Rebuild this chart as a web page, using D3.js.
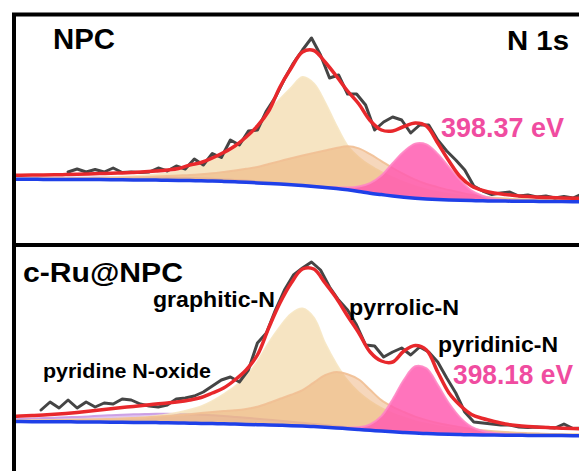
<!DOCTYPE html>
<html>
<head>
<meta charset="utf-8">
<script src="https://cdn.jsdelivr.net/npm/d3@7"></script>
<style>
  html, body { margin: 0; padding: 0; background: #fff; }
  #chart { width: 579px; height: 471px; overflow: hidden; }
  text { font-family: "Liberation Sans", Arial, sans-serif; font-weight: bold; }
</style>
</head>
<body>
<div id="chart"></div>
<script>
/* =========================
   DATA (binding energy, eV / intensity, a.u.)
========================= */
const energy = [407.5, 407.25, 407.0, 406.75, 406.5, 406.25, 406.0, 405.75, 405.5, 405.25,
  405.0, 404.75, 404.5, 404.25, 404.0, 403.75, 403.5, 403.25, 403.0, 402.75,
  402.5, 402.25, 402.0, 401.75, 401.5, 401.25, 401.0, 400.75, 400.5, 400.25,
  400.0, 399.75, 399.5, 399.25, 399.0, 398.75, 398.5, 398.25, 398.0, 397.75,
  397.5, 397.25, 397.0, 396.75, 396.5, 396.25, 396.0, 395.75, 395.5, 395.25,
  395.0, 394.75, 394.5];

// NPC
const npcBackground = [63.7, 63.7, 63.7, 63.6, 63.6, 63.5, 63.5, 63.4, 63.4, 63.3,
  63.2, 63.1, 63.0, 62.9, 62.8, 62.6, 62.4, 62.2, 62.0, 61.6,
  61.2, 60.7, 60.1, 59.5, 58.9, 58.3, 57.5, 56.6, 55.6, 54.5,
  53.2, 51.6, 49.8, 48.4, 47.0, 45.8, 44.8, 44.0, 43.4, 43.0,
  42.7, 42.4, 42.2, 42.0, 41.9, 41.8, 41.7, 41.6, 41.5, 41.4,
  41.3, 41.3, 41.2];
const npcFit = [67.7, 67.8, 67.9, 68.0, 68.2, 68.4, 68.7, 69.0, 69.4, 69.7,
  70.1, 70.6, 71.2, 72.0, 73.0, 74.5, 78.0, 80.5, 85.0, 90.5,
  97.0, 106.0, 117.0, 132.0, 156.0, 175.0, 191.0, 192.5, 181.0, 167.0,
  152.0, 139.0, 122.5, 113.0, 112.0, 116.5, 120.0, 117.0, 100.0, 82.0,
  66.3, 57.0, 52.5, 50.0, 48.5, 47.3, 46.4, 45.7, 45.4, 45.1,
  44.8, 44.6, 44.5];
const npcGraphitic = [0.8, 0.9, 1.0, 1.1, 1.2, 1.4, 1.6, 1.8, 2.1, 2.5,
  3.0, 3.6, 4.4, 5.5, 7.0, 9.5, 13.5, 17, 22, 28.5,
  36, 46, 57.5, 72, 85, 97, 108.5, 103, 85, 63,
  44, 34, 27.5, 22.5, 18.5, 15, 12, 9.5, 7.5, 6,
  4.8, 3.9, 3.2, 2.7, 2.3, 2.0, 1.8, 1.6, 1.5, 1.4,
  1.3, 1.2, 1.1];
const npcPyrrolic = [0.5, 0.6, 0.7, 0.8, 0.9, 1.0, 1.2, 1.4, 1.6, 1.9,
  2.2, 2.6, 3.0, 3.6, 4.2, 4.9, 5.6, 6.6, 7.8, 9.5,
  11.3, 13.5, 16, 19.5, 23, 26.5, 30, 33.5, 37, 40.5,
  43.5, 43, 39, 33.5, 28, 23, 18.5, 15, 12.5, 10,
  7.8, 5.8, 4.3, 3.2, 2.5, 2.0, 1.6, 1.3, 1.1, 0.9,
  0.8, 0.7, 0.6];
const npcPyridinic = [0, 0, 0, 0, 0, 0, 0, 0, 0, 0,
  0, 0, 0, 0, 0, 0, 0, 0, 0, 0,
  0, 0, 0, 0, 0, 0, 0, 0.2, 0.5, 1.2,
  2.2, 4.8, 10, 19, 32.8, 45.7, 54.6, 54.6, 45.7, 32.8,
  20, 10, 4.8, 2.2, 1.2, 0.6, 0.3, 0.1, 0, 0,
  0, 0, 0];
const npcOxide = [1.0, 1.1, 1.2, 1.3, 1.5, 1.6, 1.8, 1.9, 2.1, 2.2,
  2.3, 2.4, 2.5, 2.5, 2.5, 2.5, 2.4, 2.3, 2.2, 2.0,
  1.9, 1.7, 1.5, 1.3, 1.1, 0.9, 0.8, 0.6, 0.5, 0.4,
  0.3, 0.2, 0.2, 0.1, 0.1, 0, 0, 0, 0, 0,
  0, 0, 0, 0, 0, 0, 0, 0, 0, 0,
  0, 0, 0];
const npcRawEnergy = [406.2, 406.0, 405.8, 405.6, 405.4, 405.2, 405.0, 404.8, 404.6, 404.4,
  404.2, 404.0, 403.8, 403.6, 403.4, 403.2, 403.0, 402.8, 402.6, 402.4,
  402.2, 402.0, 401.8, 401.6, 401.4, 401.2, 401.0, 400.8, 400.6, 400.4,
  400.2, 400.0, 399.8, 399.6, 399.4, 399.2, 399.0, 398.8, 398.6, 398.4,
  398.2, 398.0, 397.8, 397.6, 397.4, 397.2, 397.0, 396.8, 396.6, 396.4,
  396.2, 396.0, 395.8, 395.6, 395.4, 395.2, 395.0, 394.8];
const npcRaw = [71, 74, 71, 73.5, 71, 75, 70.5, 71, 70.5, 71,
  75, 72, 77, 74, 84, 78, 89.5, 85.5, 103, 98,
  112, 113, 132, 146, 164, 180, 193, 205, 188, 165,
  168, 149, 149, 138, 113, 121, 126, 123, 110, 118,
  118, 103, 92, 83, 73, 57, 52, 48.5, 50, 51,
  47, 48, 46, 47, 45, 46.5, 45, 49];

// c-Ru@NPC
const ruBackground = [52.4, 52.4, 52.3, 52.3, 52.2, 52.2, 52.1, 52.0, 51.9, 51.8,
  51.7, 51.6, 51.5, 51.4, 51.2, 51.0, 50.8, 50.6, 50.4, 50.2,
  49.9, 49.6, 49.3, 49.0, 48.7, 48.3, 47.9, 47.4, 46.8, 46.1,
  45.3, 44.5, 43.7, 42.9, 42.2, 41.5, 40.9, 40.4, 40.0, 39.7,
  39.4, 39.2, 39.0, 38.9, 38.8, 38.7, 38.6, 38.5, 38.4, 38.4,
  38.3, 38.3, 38.2];
const ruFit = [57.7, 58.0, 58.5, 59.0, 59.7, 60.5, 61.5, 62.7, 64.0, 65.3,
  66.5, 67.5, 68.7, 70.0, 71.0, 72.2, 74.0, 76.5, 81.0, 86.0,
  94.0, 104.0, 119.0, 146.0, 171.0, 191.0, 205.0, 205.0, 191.0, 176.0,
  158.0, 141.0, 122.0, 113.0, 112.0, 123.0, 128.5, 124.0, 102.0, 81.0,
  68.5, 59.5, 55.5, 52.5, 50.0, 48.5, 47.5, 46.8, 46.3, 45.8,
  45.5, 45.2, 45.0];
const ruGraphitic = [1.0, 1.1, 1.2, 1.3, 1.5, 1.7, 1.9, 2.2, 2.6, 3.0,
  3.6, 4.3, 5.3, 6.6, 8.3, 10.6, 13.5, 17, 22.5, 29.5,
  37.5, 48, 63, 82, 98.5, 112, 117.5, 109, 84, 64,
  48, 37, 29, 23, 18.5, 15, 12, 9.8, 8, 6.5,
  5.3, 4.3, 3.6, 3.0, 2.6, 2.3, 2.0, 1.8, 1.6, 1.5,
  1.4, 1.3, 1.2];
const ruPyrrolic = [1.0, 1.1, 1.3, 1.5, 1.7, 1.9, 2.2, 2.5, 2.9, 3.3,
  3.8, 4.4, 5.1, 5.9, 6.8, 7.8, 9.0, 10.3, 11.6, 12.8,
  13.9, 15.5, 18, 22, 26.5, 31, 36, 44, 52, 56,
  54.5, 50, 40.5, 31, 25, 20.5, 16.5, 13.5, 11, 9,
  7.3, 5.9, 4.8, 3.9, 3.2, 2.6, 2.2, 1.9, 1.6, 1.4,
  1.2, 1.1, 1.0];
const ruPyridinic = [0, 0, 0, 0, 0, 0, 0, 0, 0, 0,
  0, 0, 0, 0, 0, 0, 0, 0, 0, 0,
  0, 0, 0, 0, 0, 0, 0.1, 0.2, 0.3, 0.5,
  0.9, 2.2, 6.0, 15, 32.3, 52.7, 66.8, 65.2, 49.1, 31,
  17, 8, 4, 2.2, 1.3, 0.8, 0.5, 0.3, 0.2, 0.1,
  0.1, 0, 0];
const ruOxide = [2.5, 2.8, 3.1, 3.6, 4.1, 4.6, 5.0, 5.6, 6.4, 7.0,
  7.6, 8.1, 8.5, 8.8, 9.0, 9.0, 8.9, 8.6, 8.3, 7.8,
  7.2, 6.6, 5.9, 5.2, 4.6, 3.9, 3.3, 2.7, 2.2, 1.8,
  1.4, 1.1, 0.9, 0.7, 0.5, 0.4, 0.3, 0.2, 0.2, 0.1,
  0.1, 0.1, 0, 0, 0, 0, 0, 0, 0, 0,
  0, 0, 0];
const ruRawEnergy = [406.8, 406.6, 406.4, 406.2, 406.0, 405.8, 405.6, 405.4, 405.2, 405.0,
  404.8, 404.6, 404.4, 404.2, 404.0, 403.8, 403.6, 403.4, 403.2, 403.0,
  402.8, 402.6, 402.4, 402.2, 402.0, 401.8, 401.6, 401.4, 401.2, 401.0,
  400.8, 400.6, 400.4, 400.2, 400.0, 399.8, 399.6, 399.4, 399.2, 399.0,
  398.8, 398.6, 398.4, 398.2, 398.0, 397.8, 397.6, 397.4, 397.2, 397.0,
  396.8, 396.6, 396.4, 396.2, 396.0, 395.8, 395.6, 395.4, 395.2, 395.0,
  394.8];
const ruRaw = [64, 72, 66, 74, 66, 72, 67, 71, 70, 75,
  74, 70, 68, 67, 69, 75, 76, 78, 82, 88,
  94, 97, 92, 104, 131, 141, 164, 184, 199, 206,
  212, 204, 187, 174, 164, 149, 129, 128, 117, 122,
  126, 119, 127, 122, 112, 96, 81, 62, 52, 51,
  50, 49, 49, 47, 46.5, 47, 46.5, 46, 50, 45.5,
  46];

/* =========================
   LAYOUT
========================= */
const W = 579, H = 471;
const frameLeft = 14;

const svg = d3.select("#chart")
  .append("svg")
  .attr("width", W)
  .attr("height", H)
  .attr("viewBox", `0 0 ${W} ${H}`);

svg.append("rect").attr("width", W).attr("height", H).attr("fill", "#fff");

const x = d3.scaleLinear().domain([407.4, 394.4]).range([frameLeft, 600]);

const components = [
  { key: "oxide", fill: "#c48be0", fillOpacity: 0.5, stroke: "#c99ae3" },
  { key: "graphitic", fill: "#f0d49c", fillOpacity: 0.62, stroke: "#f6e5c2" },
  { key: "pyrrolic", fill: "#eaa66a", fillOpacity: 0.45, stroke: "#f1bf93" },
  { key: "pyridinic", fill: "#ff5cb0", fillOpacity: 0.85, stroke: "#ff86c4" }
];

const panels = [
  {
    id: "npc", top: 14.5, bottom: 245,
    bg: npcBackground, fit: npcFit, rawE: npcRawEnergy, raw: npcRaw,
    comps: { oxide: npcOxide, graphitic: npcGraphitic, pyrrolic: npcPyrrolic, pyridinic: npcPyridinic }
  },
  {
    id: "ru", top: 245, bottom: 476,
    bg: ruBackground, fit: ruFit, rawE: ruRawEnergy, raw: ruRaw,
    comps: { oxide: ruOxide, graphitic: ruGraphitic, pyrrolic: ruPyrrolic, pyridinic: ruPyridinic }
  }
];

const curve = d3.curveCatmullRom.alpha(0.5);

panels.forEach(p => {
  const y = d3.scaleLinear().domain([0, 227]).range([p.bottom - 2, p.bottom - 229]);

  svg.append("clipPath").attr("id", `clip-${p.id}`)
    .append("rect")
    .attr("x", frameLeft + 2).attr("y", p.top + 2)
    .attr("width", 600).attr("height", p.bottom - p.top - 4);

  const g = svg.append("g").attr("clip-path", `url(#clip-${p.id})`);

  // fitted components, each sitting on the background
  components.forEach(c => {
    const vals = p.comps[c.key];
    const rows = energy.map((e, i) => ({ e, b: p.bg[i], v: vals[i] }));
    g.append("path")
      .datum(rows)
      .attr("d", d3.area().curve(curve)
        .x(d => x(d.e)).y0(d => y(d.b)).y1(d => y(d.b + d.v)))
      .attr("fill", c.fill)
      .attr("fill-opacity", c.fillOpacity)
      .attr("stroke", "none");
    g.append("path")
      .datum(rows)
      .attr("d", d3.line().curve(curve).x(d => x(d.e)).y(d => y(d.b + d.v)))
      .attr("fill", "none")
      .attr("stroke", c.stroke)
      .attr("stroke-width", 2)
      .attr("stroke-opacity", 0.9);
  });

  // background
  g.append("path")
    .datum(energy.map((e, i) => [e, p.bg[i]]))
    .attr("d", d3.line().curve(curve).x(d => x(d[0])).y(d => y(d[1])))
    .attr("fill", "none")
    .attr("stroke", "#1f40e8")
    .attr("stroke-width", 3.5);

  // raw spectrum
  g.append("path")
    .datum(p.rawE.map((e, i) => [e, p.raw[i]]))
    .attr("d", d3.line().x(d => x(d[0])).y(d => y(d[1])))
    .attr("fill", "none")
    .attr("stroke", "#454545")
    .attr("stroke-width", 3)
    .attr("stroke-linejoin", "round")
    .attr("stroke-linecap", "round");

  // envelope
  g.append("path")
    .datum(energy.map((e, i) => [e, p.fit[i]]))
    .attr("d", d3.line().curve(curve).x(d => x(d[0])).y(d => y(d[1])))
    .attr("fill", "none")
    .attr("stroke", "#e8282c")
    .attr("stroke-width", 3.5);

  // frame
  svg.append("rect")
    .attr("x", frameLeft).attr("y", p.top)
    .attr("width", 620).attr("height", p.bottom - p.top)
    .attr("fill", "none")
    .attr("stroke", "#000")
    .attr("stroke-width", 4);
});

/* =========================
   LABELS
========================= */
function label(txt, lx, ly, size, len, color, anchor) {
  svg.append("text")
    .attr("x", lx).attr("y", ly)
    .attr("font-size", size)
    .attr("fill", color || "#000")
    .attr("text-anchor", anchor || "start")
    .attr("textLength", len)
    .attr("lengthAdjust", "spacingAndGlyphs")
    .text(txt);
}

label("NPC", 53, 49, 29, 62);
label("N 1s", 569, 50, 28, 62, "#000", "end");
label("398.37 eV", 441, 137, 27, 123, "#f04ca0");

label("c-Ru@NPC", 23, 282, 27.5, 160);
label("graphitic-N", 153, 307, 22, 122);
label("pyrrolic-N", 349, 315, 22, 110);
label("pyridinic-N", 438, 352, 22, 120);
label("pyridine N-oxide", 43, 378, 19.5, 168);
label("398.18 eV", 453, 383.5, 27, 120, "#f04ca0");
</script>
</body>
</html>
